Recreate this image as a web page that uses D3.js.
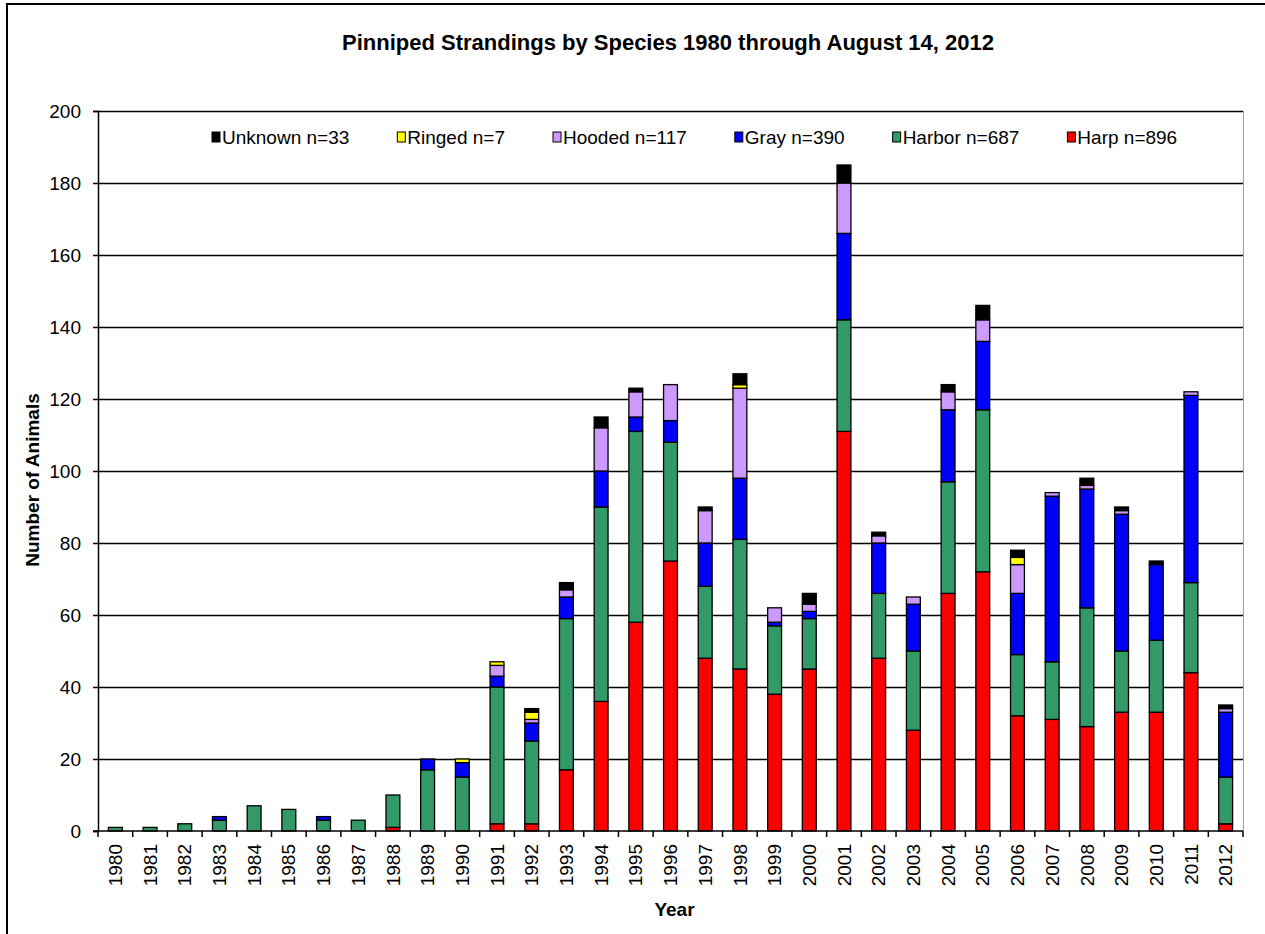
<!DOCTYPE html>
<html>
<head>
<meta charset="utf-8">
<script src="https://cdn.jsdelivr.net/npm/d3@7/dist/d3.min.js"></script>
<style>
  html, body { margin: 0; padding: 0; background: #fff; }
  svg { display: block; font-family: "Liberation Sans", Arial, sans-serif; }
</style>
</head>
<body>
<svg id="chart" width="1265" height="934"></svg>
<script>
// Pinniped strandings per year, by species
const years = ["1980","1981","1982","1983","1984","1985","1986","1987","1988","1989","1990",
  "1991","1992","1993","1994","1995","1996","1997","1998","1999","2000","2001","2002","2003",
  "2004","2005","2006","2007","2008","2009","2010","2011","2012"];
const harp    = [0,0,0,0,0,0,0,0,1,0,0, 2,2,17,36,58,75,48,45,38,45,111,48,28,66,72,32,31,29,33,33,44,2];
const harbor  = [1,1,2,3,7,6,3,3,9,17,15, 38,23,42,54,53,33,20,36,19,14,31,18,22,31,45,17,16,33,17,20,25,13];
const gray    = [0,0,0,1,0,0,1,0,0,3,4, 3,5,6,10,4,6,12,17,1,2,24,14,13,20,19,17,46,33,38,21,52,18];
const hooded  = [0,0,0,0,0,0,0,0,0,0,0, 3,1,2,12,7,10,9,25,4,2,14,2,2,5,6,8,1,1,1,0,1,1];
const ringed  = [0,0,0,0,0,0,0,0,0,0,1, 1,2,0,0,0,0,0,1,0,0,0,0,0,0,0,2,0,0,0,0,0,0];
const unknown = [0,0,0,0,0,0,0,0,0,0,0, 0,1,2,3,1,0,1,3,0,3,5,1,0,2,4,2,0,2,1,1,0,1];

// Stacking order, bottom to top
const speciesNames = ["Harp", "Harbor", "Gray", "Hooded", "Ringed", "Unknown"];
const speciesValues = [harp, harbor, gray, hooded, ringed, unknown];
const speciesColors = ["#ff0000", "#339966", "#0000ff", "#cc99ff", "#ffff00", "#000000"];
const yTicks = [0, 20, 40, 60, 80, 100, 120, 140, 160, 180, 200];

const titleText = "Pinniped Strandings by Species 1980 through August 14, 2012";
const yTitle = "Number of Animals";
const xTitle = "Year";

const rows = years.map((yr, i) => {
  const r = { year: yr };
  speciesNames.forEach((s, k) => { r[s] = speciesValues[k][i]; });
  return r;
});

const svg = d3.select("#chart");
const plot = { left: 98, right: 1243, top: 111, bottom: 831 };

// outer frame
svg.append("rect")
  .attr("x", 7).attr("y", 4).attr("width", 1400).attr("height", 1100)
  .attr("fill", "none").attr("stroke", "#000").attr("stroke-width", 2);

const x = d3.scaleBand().domain(years)
  .range([plot.left, plot.right]).paddingInner(0.6).paddingOuter(0.3);
const y = d3.scaleLinear().domain([0, 200]).range([plot.bottom, plot.top]);
const color = d3.scaleOrdinal().domain(speciesNames).range(speciesColors);

// plot area right edge
svg.append("line")
  .attr("x1", plot.right + 0.5).attr("x2", plot.right + 0.5)
  .attr("y1", plot.top).attr("y2", plot.bottom)
  .attr("stroke", "#a0a0a0").attr("stroke-width", 1);

// gridlines
svg.append("g").selectAll("line").data(yTicks.filter(t => t > 0)).join("line")
  .attr("x1", plot.left).attr("x2", plot.right)
  .attr("y1", d => Math.round(y(d)) + 0.5).attr("y2", d => Math.round(y(d)) + 0.5)
  .attr("stroke", "#000").attr("stroke-width", 1.3);

// stacked bars
const stack = d3.stack().keys(speciesNames)(rows);
svg.append("g").selectAll("g").data(stack).join("g")
  .attr("fill", d => color(d.key))
  .selectAll("rect").data(d => d.filter(p => p[1] - p[0] > 0)).join("rect")
  .attr("x", d => x(d.data.year))
  .attr("width", x.bandwidth())
  .attr("y", d => y(d[1]))
  .attr("height", d => y(d[0]) - y(d[1]))
  .attr("stroke", "#000").attr("stroke-width", 1.3);

// y axis
const yAxis = d3.axisLeft(y).tickValues(yTicks).tickSize(5).tickPadding(12);
const gy = svg.append("g").attr("transform", `translate(${plot.left},0)`).call(yAxis);
gy.select(".domain").attr("stroke", "#000").attr("stroke-width", 1.5);
gy.selectAll(".tick line").attr("stroke", "#000").attr("stroke-width", 1.5);
gy.selectAll(".tick text").attr("font-size", 19).attr("fill", "#000")
  .attr("font-family", "'Liberation Sans', Arial, sans-serif");

// x axis: ticks between categories
const step = x.step();
const gx = svg.append("g");
gx.append("line")
  .attr("x1", plot.left - 5).attr("x2", plot.right)
  .attr("y1", plot.bottom).attr("y2", plot.bottom)
  .attr("stroke", "#000").attr("stroke-width", 1.5);
gx.selectAll("line.tk").data(d3.range(years.length + 1)).join("line")
  .attr("class", "tk")
  .attr("x1", i => plot.left + i * step).attr("x2", i => plot.left + i * step)
  .attr("y1", plot.bottom).attr("y2", plot.bottom + 6)
  .attr("stroke", "#000").attr("stroke-width", 1.5);
gx.selectAll("text").data(years).join("text")
  .attr("transform", d => `translate(${x(d) + x.bandwidth() / 2},844) rotate(-90)`)
  .attr("text-anchor", "end").attr("dy", "0.35em")
  .attr("font-size", 19).attr("fill", "#000")
  .text(d => d);

// titles
svg.append("text").attr("x", 668).attr("y", 50)
  .attr("text-anchor", "middle").attr("font-weight", "bold").attr("font-size", 22)
  .text(titleText);
svg.append("text").attr("transform", `translate(39,480) rotate(-90)`)
  .attr("text-anchor", "middle").attr("font-weight", "bold").attr("font-size", 19)
  .text(yTitle);
svg.append("text").attr("x", (plot.left + plot.right) / 2 + 4).attr("y", 916)
  .attr("text-anchor", "middle").attr("font-weight", "bold").attr("font-size", 19)
  .text(xTitle);

// legend, listed top of stack first
const legendItems = speciesNames.map((s, k) => ({
  name: s, color: speciesColors[k], n: d3.sum(speciesValues[k])
})).reverse();
const legend = svg.append("g");
let lx = 212;
legendItems.forEach(item => {
  const g = legend.append("g").attr("transform", `translate(${lx},137)`);
  g.append("rect").attr("x", 0).attr("y", -5).attr("width", 8).attr("height", 10)
    .attr("fill", item.color).attr("stroke", "#000").attr("stroke-width", 1);
  const t = g.append("text").attr("x", 10).attr("y", 0).attr("dy", "0.35em")
    .attr("font-size", 19).attr("fill", "#000")
    .text(`${item.name} n=${item.n}`);
  lx += 10 + t.node().getComputedTextLength() + 48;
});
</script>
</body>
</html>
